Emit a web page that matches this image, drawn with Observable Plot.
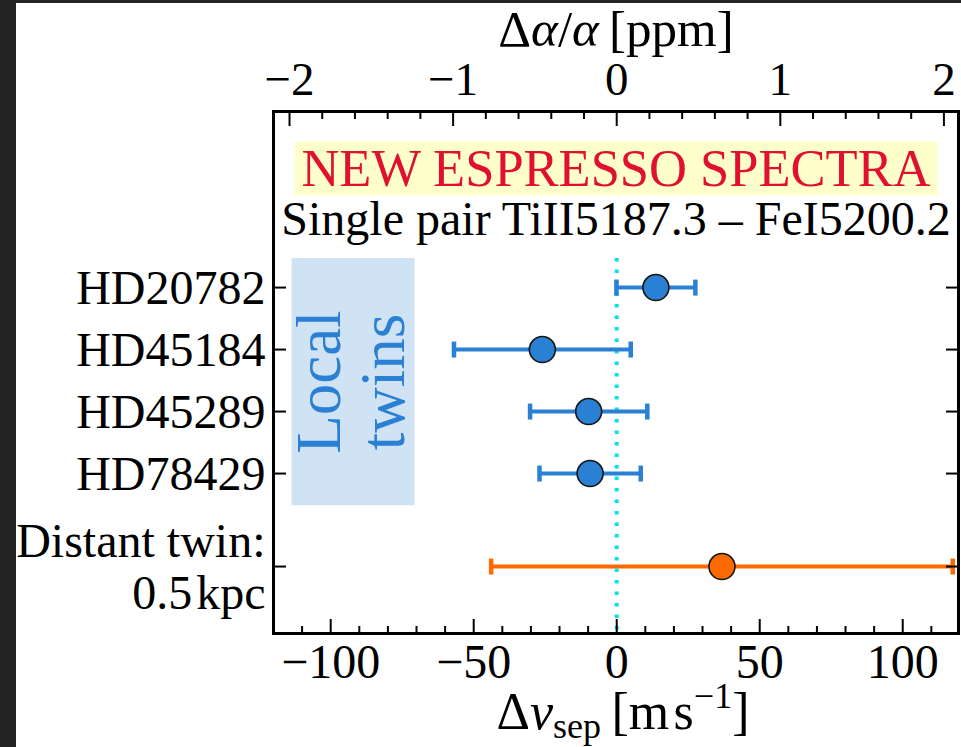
<!DOCTYPE html>
<html><head><meta charset="utf-8">
<script src="https://cdn.jsdelivr.net/npm/d3@7"></script>
<script src="https://cdn.jsdelivr.net/npm/@observablehq/plot@0.6"></script>
<style>
html,body{margin:0;padding:0;background:#242424;overflow:hidden}
#wrap{position:absolute;left:16px;top:3px;width:945px;height:744px;background:#fff;overflow:visible}
</style></head><body><div id="wrap"></div>
<script>
// ---- data ----
const stars = ["HD20782", "HD45184", "HD45289", "HD78429", "Distant twin:\n0.5\u200Akpc"];
const rowPos = [0, 1, 2, 3, 4.5];
const dv = [13.7, -26.0, -9.8, -9.3, 36.8];       // Δv_sep [m/s]
const err = [13.8, 30.9, 20.5, 17.7, 80.7];        // 1σ
const group = ["local", "local", "local", "local", "distant"];
const xMajor = [-100, -50, 0, 50, 100];
const xMinor = [-110, -90, -80, -70, -60, -40, -30, -20, -10, 10, 20, 30, 40, 60, 70, 80, 90, 110];
const ppmMajor = [-2, -1, 0, 1, 2];
const ppmMinor = [-1.8, -1.6, -1.4, -1.2, -0.8, -0.6, -0.4, -0.2, 0.2, 0.4, 0.6, 0.8, 1.2, 1.4, 1.6, 1.8];
const msPerPpm = 57.2;
const xDomain = [-120, 119.5];
const yDomain = [5.58, -2.84];
const localBox = {x1: -113.5, x2: -70.5, y1: -0.47, y2: 3.52, label: "Local\ntwins"};
const zeroLine = {x: 0, y1: -0.47};
const titleText = "NEW ESPRESSO SPECTRA";
const subtitleText = "Single pair TiII5187.3 \u2013 FeI5200.2";

// ---- styles ----
const BLUE = "#2a80d2", ORANGE = "#ff6a00", CYAN = "#00e3e8";
const BOXFILL = "#d0e3f4", TITLEBG = "#ffffcc", RED = "#e0102e";
const serif = '"Liberation Serif","Times New Roman",serif';
const W = 945, H = 744;

const rows = stars.map((s, i) => ({name: s, y: rowPos[i], v: dv[i], e: err[i], g: group[i]}));
const col = d => d.g === "local" ? BLUE : ORANGE;
const capSymbol = {draw(ctx, size) { const h = Math.sqrt(size / Math.PI); ctx.moveTo(0, -h); ctx.lineTo(0, h); }};
const fmt = d3.format("d");

const svg = Plot.plot({
  width: W, height: H,
  marginLeft: 257, marginRight: 3, marginTop: 108, marginBottom: 114,
  style: {fontFamily: serif, background: "white", color: "black", overflow: "visible"},
  x: {domain: xDomain, label: null},
  y: {domain: yDomain, label: null},
  color: {type: "identity"},
  marks: [
    Plot.rect([localBox], {x1: "x1", x2: "x2", y1: "y1", y2: "y2", fill: BOXFILL}),
    Plot.text([localBox], {x: d => (d.x1 + d.x2) / 2, y: d => (d.y1 + d.y2) / 2, text: "label",
      rotate: -90, fontSize: 63, lineHeight: 1.02, fill: BLUE, dx: -2}),
    Plot.ruleX([zeroLine], {x: "x", y1: "y1", y2: () => yDomain[0], stroke: CYAN, strokeWidth: 4, strokeDasharray: "3.5,8"}),
    Plot.ruleY(rows, {y: "y", x1: d => d.v - d.e, x2: d => d.v + d.e, stroke: col, strokeWidth: 4}),
    Plot.dot(rows, {x: d => d.v - d.e, y: "y", symbol: capSymbol, r: 8, stroke: col, strokeWidth: 4.5, fill: "none"}),
    Plot.dot(rows, {x: d => d.v + d.e, y: "y", symbol: capSymbol, r: 8, stroke: col, strokeWidth: 4.5, fill: "none"}),
    Plot.dot(rows, {x: "v", y: "y", r: 13, fill: col, stroke: "#151515", strokeWidth: 1.6}),
    Plot.text([titleText], {frameAnchor: "top", dy: 58, fontSize: 52.5, fill: RED, lineAnchor: "middle"}),
    Plot.text([subtitleText], {frameAnchor: "top", dy: 108, fontSize: 48, fill: "black", lineAnchor: "middle"}),
    // bottom axis (m/s)
    Plot.axisX({anchor: "bottom", ticks: xMajor, tickSize: 0, tickPadding: 10, fontSize: 48, tickFormat: fmt, label: null}),
    Plot.axisX({anchor: "bottom", ticks: xMajor, tickSize: -14, strokeWidth: 2, fill: "none", label: null}),
    Plot.axisX({anchor: "bottom", ticks: xMinor, tickSize: -7, strokeWidth: 2, fill: "none", label: null}),
    // top axis (ppm)
    Plot.axisX({anchor: "top", ticks: ppmMajor.map(p => p * msPerPpm), tickSize: 0, tickPadding: 17, fontSize: 47,
      tickFormat: d => fmt(Math.round(d / msPerPpm)), label: null}),
    Plot.axisX({anchor: "top", ticks: ppmMajor.map(p => p * msPerPpm), tickSize: -14, strokeWidth: 2, fill: "none", label: null}),
    Plot.axisX({anchor: "top", ticks: ppmMinor.map(p => p * msPerPpm), tickSize: -7, strokeWidth: 2, fill: "none", label: null}),
    // y axes
    Plot.axisY({anchor: "left", ticks: rowPos, tickSize: 0, tickPadding: 8, fontSize: 48, lineHeight: 1.08,
      tickFormat: d => stars[rowPos.indexOf(d)], label: null}),
    Plot.axisY({anchor: "left", ticks: rowPos, tickSize: -13, strokeWidth: 2, fill: "none", label: null}),
    Plot.axisY({anchor: "right", ticks: rowPos, tickSize: -13, strokeWidth: 2, fill: "none", label: null}),
    Plot.frame({stroke: "black", strokeWidth: 3})
  ]
});
document.getElementById("wrap").appendChild(svg);

// yellow background behind the title
const sel = d3.select(svg);
sel.selectAll("text").filter(function() { return this.textContent === titleText; }).each(function() {
  const b = this.getBBox();
  const g = this.parentNode;
  const tf = (g.getAttribute("transform") || "") + " " + (this.getAttribute("transform") || "");
  d3.select(g.parentNode).insert("rect", () => g)
    .attr("transform", tf.trim() || null)
    .attr("x", b.x - 7).attr("y", b.y + 2).attr("width", b.width + 14).attr("height", b.height - 4)
    .attr("fill", TITLEBG);
});

// axis titles with math styling
const topTitle = sel.append("text").attr("x", 600).attr("y", 43).attr("text-anchor", "middle")
  .attr("font-size", 51).attr("font-family", serif).attr("fill", "black");
topTitle.append("tspan").text("\u0394");
topTitle.append("tspan").attr("font-style", "italic").text("\u03b1");
topTitle.append("tspan").text("/");
topTitle.append("tspan").attr("font-style", "italic").text("\u03b1");
topTitle.append("tspan").text("\u2009[ppm]");

const botTitle = sel.append("text").attr("x", 607).attr("y", 726).attr("text-anchor", "middle")
  .attr("font-size", 52).attr("font-family", serif).attr("fill", "black");
botTitle.append("tspan").text("\u0394");
botTitle.append("tspan").attr("font-style", "italic").text("v");
botTitle.append("tspan").attr("font-size", 36).attr("dy", 9).text("sep");
botTitle.append("tspan").attr("dy", -9).text("\u2009[m\u200As");
botTitle.append("tspan").attr("font-size", 36).attr("dy", -21).text("\u22121");
botTitle.append("tspan").attr("dy", 21).text("]");
</script></body></html>
